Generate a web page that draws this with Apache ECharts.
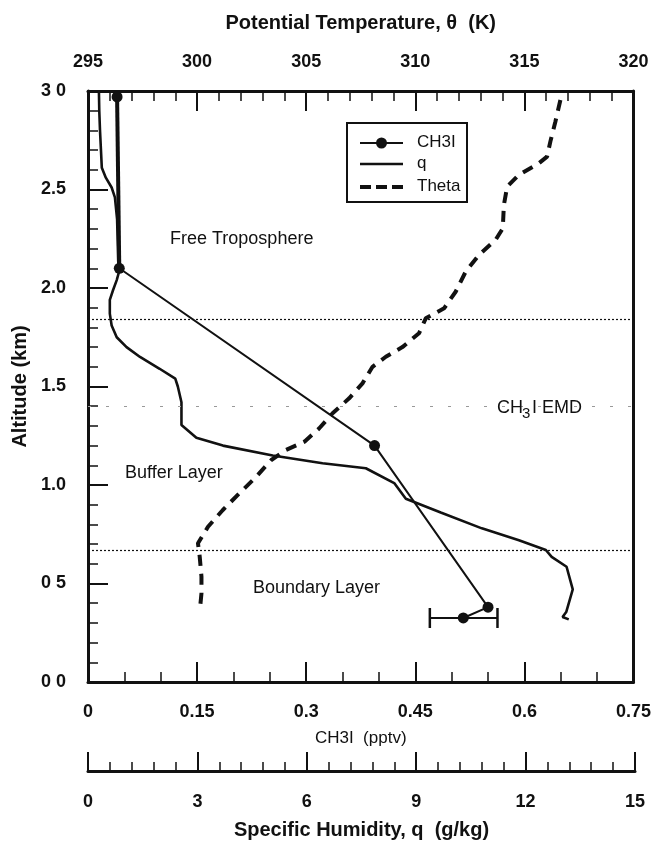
<!DOCTYPE html>
<html><head><meta charset="utf-8">
<script src="https://cdn.jsdelivr.net/npm/echarts/dist/echarts.min.js"></script>
<style>html,body{margin:0;padding:0;background:#fff}#c{width:654px;height:843px}</style>
</head><body><div id="c"></div>
<script>
// ---- data ----
const altTickLabels = ['0 0','0 5','1.0','1.5','2.0','2.5','3 0'];
const ch3iTickLabels = ['0','0.15','0.3','0.45','0.6','0.75'];
const qTickLabels = ['0','3','6','9','12','15'];
const thetaTickLabels = ['295','300','305','310','315','320'];
const legendNames = ['CH3I', 'q', 'Theta'];

const ch3iAlt = [2.97, 2.10, 1.20, 0.38, 0.325];
const ch3iVal = [0.040, 0.043, 0.394, 0.550, 0.516];
const ch3iErrLow = [0.470];
const ch3iErrHigh = [0.563];
const ch3iErrAlt = [0.325];

const qAlt = [3.00,2.90,2.80,2.61,2.56,2.51,2.46,2.35,2.14,2.08,2.04,1.99,1.94,1.87,1.81,1.75,1.70,1.65,1.59,1.54,1.50,1.42,1.305,1.24,1.20,1.15,1.11,1.085,1.01,0.93,0.86,0.78,0.72,0.67,0.635,0.585,0.47,0.355,0.33,0.318];
const qVal = [0.30,0.31,0.33,0.38,0.49,0.65,0.74,0.80,0.83,0.85,0.79,0.69,0.60,0.60,0.65,0.79,1.06,1.43,1.97,2.40,2.47,2.57,2.57,2.98,3.71,5.08,6.45,7.64,8.42,8.74,9.70,10.83,11.85,12.59,12.75,13.16,13.33,13.15,13.05,13.22];

const thetaAlt = [2.954,2.844,2.743,2.667,2.633,2.574,2.514,2.421,2.303,2.244,2.168,2.083,1.981,1.897,1.846,1.770,1.700,1.651,1.600,1.516,1.440,1.364,1.288,1.220,1.178,1.127,1.042,0.958,0.873,0.788,0.704,0.636,0.535,0.450,0.357];
const thetaK = [316.65,316.42,316.19,316.04,315.66,314.74,314.21,314.06,314.01,313.68,312.92,312.31,311.85,311.32,310.48,310.17,309.41,308.65,308.04,307.58,306.97,306.21,305.60,304.92,304.08,303.40,302.71,301.94,301.18,300.50,300.04,300.12,300.20,300.20,300.12];

const layerBounds = [1.84, 0.665];
const emdAlt = [1.40];

// ---- chart ----
const FONT = '"Liberation Sans", Arial, Helvetica, sans-serif';
const INK = '#111';
const zip = (xs, ys) => xs.map((x, i) => [x, ys[i]]);

const tickCommon = (len, minorLen, split) => ({
  axisTick: {show: true, inside: true, length: len, lineStyle: {color: INK, width: 2}},
  minorTick: {show: true, splitNumber: split, length: minorLen, lineStyle: {color: INK, width: 1.5}},
  axisLine: {show: true, onZero: false, lineStyle: {color: INK, width: 3}},
  splitLine: {show: false}
});
const tickLabel = (margin, fmt) => ({margin: margin, fontSize: 18, fontWeight: 'bold', color: INK, fontFamily: FONT, formatter: fmt});
const titleStyle = {fontSize: 20, fontWeight: 'bold', color: INK, fontFamily: FONT};

// legend drawn as graphic (box + keys)
const LX = 347, LY = 123, LW = 120, LH = 79;
const rowY = [143, 164, 187];
const keyX0 = 360, keyX1 = 403;
const legendGraphic = [
  {type: 'rect', shape: {x: LX, y: LY, width: LW, height: LH}, style: {fill: '#fff', stroke: INK, lineWidth: 2}, z: 20},
  {type: 'line', shape: {x1: keyX0, y1: rowY[0], x2: keyX1, y2: rowY[0]}, style: {stroke: INK, lineWidth: 2}, z: 21},
  {type: 'circle', shape: {cx: (keyX0 + keyX1) / 2, cy: rowY[0], r: 5.5}, style: {fill: INK}, z: 21},
  {type: 'line', shape: {x1: keyX0, y1: rowY[1], x2: keyX1, y2: rowY[1]}, style: {stroke: INK, lineWidth: 2.5}, z: 21},
  {type: 'line', shape: {x1: keyX0, y1: rowY[2], x2: keyX1, y2: rowY[2]}, style: {stroke: INK, lineWidth: 4, lineDash: [11, 5]}, z: 21}
].concat(legendNames.map((n, i) => ({
  type: 'text', x: 417, y: rowY[i] - 1, z: 21,
  style: {text: n, fill: INK, font: '17px ' + FONT, verticalAlign: 'middle', textVerticalAlign: 'middle'}
})));

const chart = echarts.init(document.getElementById('c'), null, {renderer: 'canvas'});
const option = {
  animation: false,
  backgroundColor: '#fff',
  textStyle: {fontFamily: FONT, color: INK},
  grid: [
    {left: 88, right: 19, top: 91, bottom: 161},
    {left: 88, right: 19, top: 770, height: 1}
  ],
  xAxis: [
    Object.assign({
      type: 'value', gridIndex: 0, position: 'bottom', min: 0, max: 0.75, interval: 0.15,
      axisLabel: tickLabel(21, v => ch3iTickLabels[Math.round(v / 0.15)]),
      name: 'CH3I  (pptv)', nameLocation: 'middle', nameGap: 48,
      nameTextStyle: {fontSize: 17, color: INK, fontFamily: FONT}
    }, tickCommon(20, 10, 3)),
    Object.assign({
      type: 'value', gridIndex: 0, position: 'top', min: 295, max: 320, interval: 5,
      axisLabel: tickLabel(20, v => thetaTickLabels[Math.round((v - 295) / 5)]),
      name: 'Potential Temperature, \u03b8  (K)', nameLocation: 'middle', nameGap: 58,
      nameTextStyle: titleStyle
    }, tickCommon(20, 10, 5)),
    {type: 'value', gridIndex: 0, min: 0, max: 15, show: false},
    Object.assign({
      type: 'value', gridIndex: 1, position: 'bottom', min: 0, max: 15, interval: 3,
      axisLabel: tickLabel(22, v => qTickLabels[Math.round(v / 3)]),
      name: 'Specific Humidity, q  (g/kg)', nameLocation: 'middle', nameGap: 49,
      nameTextStyle: titleStyle
    }, tickCommon(19, 9, 5))
  ],
  yAxis: [
    Object.assign({
      type: 'value', gridIndex: 0, position: 'left', min: 0, max: 3, interval: 0.5,
      axisLabel: tickLabel(22, v => altTickLabels[Math.round(v / 0.5)]),
      name: 'Altitude (km)', nameLocation: 'middle', nameRotate: 90, nameGap: 56,
      nameTextStyle: titleStyle
    }, tickCommon(20, 10, 5)),
    {type: 'value', gridIndex: 0, position: 'right', min: 0, max: 3,
      axisLine: {show: true, onZero: false, lineStyle: {color: INK, width: 3}},
      axisTick: {show: false}, axisLabel: {show: false}, splitLine: {show: false}},
    {type: 'value', gridIndex: 1, min: 0, max: 1, show: false}
  ],
  series: [
    {
      name: 'Theta', type: 'line', xAxisIndex: 1, yAxisIndex: 0,
      data: zip(thetaK, thetaAlt), symbol: 'none', z: 2,
      lineStyle: {color: INK, width: 4, type: [11, 8]},
      itemStyle: {color: INK}
    },
    {
      name: 'q', type: 'line', xAxisIndex: 2, yAxisIndex: 0,
      data: zip(qVal, qAlt), symbol: 'none', z: 3,
      lineStyle: {color: INK, width: 2.6},
      itemStyle: {color: INK},
      markLine: {
        silent: true, symbol: 'none', label: {show: false},
        data: layerBounds.map(v => ({yAxis: v, lineStyle: {color: INK, width: 1.2, type: [2, 2]}}))
          .concat(emdAlt.map(v => ({yAxis: v, lineStyle: {color: '#999', width: 1, type: [3, 15]}})))
      }
    },
    {
      name: 'CH3I', type: 'line', xAxisIndex: 0, yAxisIndex: 0,
      data: zip(ch3iVal, ch3iAlt), symbol: 'circle', symbolSize: 11, z: 5,
      lineStyle: {color: INK, width: 2}, itemStyle: {color: INK}
    },
    {
      name: 'CH3I upper', type: 'line', xAxisIndex: 0, yAxisIndex: 0,
      data: zip(ch3iVal.slice(0, 2), ch3iAlt.slice(0, 2)), symbol: 'none', z: 4,
      lineStyle: {color: INK, width: 4}
    },
    {
      name: 'CH3I err', type: 'custom', xAxisIndex: 0, yAxisIndex: 0, z: 4,
      data: ch3iErrLow.map((lo, i) => [lo, ch3iErrHigh[i], ch3iErrAlt[i]]),
      encode: {x: [0, 1], y: 2},
      renderItem: function (params, api) {
        const a = api.coord([api.value(0), api.value(2)]);
        const b = api.coord([api.value(1), api.value(2)]);
        return {type: 'group', children: [
          {type: 'line', shape: {x1: a[0], y1: a[1], x2: b[0], y2: b[1]}, style: {stroke: INK, lineWidth: 2}},
          {type: 'line', shape: {x1: a[0], y1: a[1] - 10, x2: a[0], y2: a[1] + 10}, style: {stroke: INK, lineWidth: 2.5}},
          {type: 'line', shape: {x1: b[0], y1: b[1] - 10, x2: b[0], y2: b[1] + 10}, style: {stroke: INK, lineWidth: 2.5}}
        ]};
      }
    }
  ],
  graphic: [
    {type: 'text', x: 170, y: 239, z: 10, style: {text: 'Free Troposphere', fill: INK, font: '18px ' + FONT, verticalAlign: 'middle', textVerticalAlign: 'middle'}},
    {type: 'text', x: 125, y: 473, z: 10, style: {text: 'Buffer Layer', fill: INK, font: '18px ' + FONT, verticalAlign: 'middle', textVerticalAlign: 'middle'}},
    {type: 'text', x: 253, y: 588, z: 10, style: {text: 'Boundary Layer', fill: INK, font: '18px ' + FONT, verticalAlign: 'middle', textVerticalAlign: 'middle'}},
    {type: 'text', x: 497, y: 408, z: 10, style: {text: 'CH', fill: INK, font: '18px ' + FONT, verticalAlign: 'middle', textVerticalAlign: 'middle'}},
    {type: 'text', x: 522, y: 414, z: 10, style: {text: '3', fill: INK, font: '15px ' + FONT, verticalAlign: 'middle', textVerticalAlign: 'middle'}},
    {type: 'text', x: 532, y: 408, z: 10, style: {text: 'I EMD', fill: INK, font: '18px ' + FONT, verticalAlign: 'middle', textVerticalAlign: 'middle'}}
  ].concat(legendGraphic)
};
chart.setOption(option);
</script></body></html>
